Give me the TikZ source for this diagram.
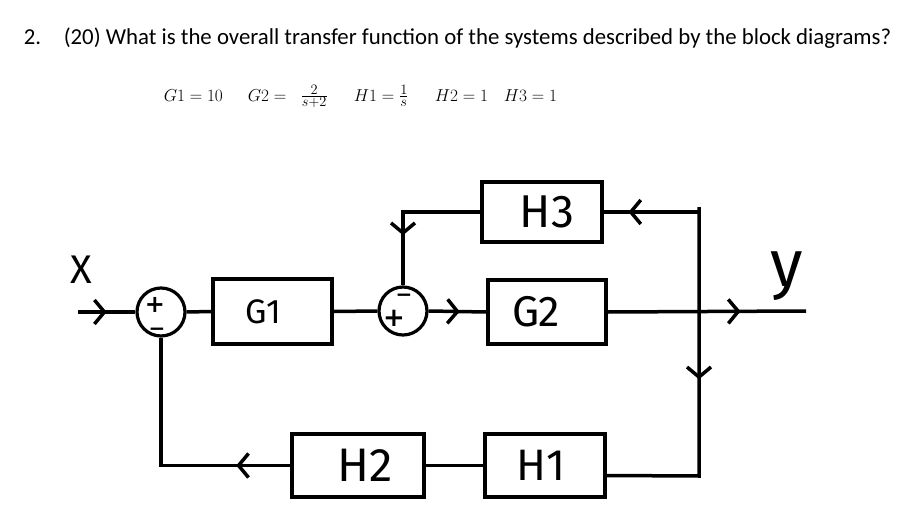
\documentclass[tikz,border=0pt]{standalone}
\usepackage{fontspec}
\setmainfont{Carlito}
\newfontfamily\hand{Fira Sans}
\newfontfamily\symf{DejaVu Sans}
\usetikzlibrary{arrows.meta,decorations.markings}
\begin{document}
\begin{tikzpicture}[x=1pt,y=-1pt,
  line width=3.5pt,
  blk/.style={draw,line width=3.5pt,inner sep=0pt},
  lbl/.style={font=\hand\fontsize{#1}{#1}\selectfont},
  sumj/.style={draw,circle,line width=3.2pt,minimum size=48pt,inner sep=0pt},
  sgn/.style={font=\symf\bfseries\fontsize{#1}{#1}\selectfont,inner sep=0pt},
  eq/.style={anchor=base west,inner sep=0pt,font=\fontsize{19}{21}\selectfont},
  ttl/.style={anchor=base west,inner sep=0pt,font=\fontsize{22.8}{26}\selectfont},
  arrat/.style={postaction={decorate},decoration={markings,
      mark=at position #1 with {\arrow{Straight Barb[length=10pt,width=24pt]}}}},
]
\useasboundingbox (0,0) rectangle (911,522);
\fill[white] (0,0) rectangle (911,522);

% title
\node[ttl] (num) at (22,45) {2.};
\node[ttl] (title) at (62,45) {(20) What is the overall transfer function of the systems described by the block diagrams?};

% given values
\node[eq] (f1) at (162,101) {$G1 = 10$};
\node[eq] (f2) at (246,101) {$G2 =\;\; \frac{2}{s+2}$};
\node[eq] (f3) at (352,101) {$H1 = \frac{1}{s}$};
\node[eq] (f4) at (433,101) {$H2 = 1$};
\node[eq] (f5) at (502,101) {$H3 = 1$};

% blocks
\node[sumj] (sA) at (161,312) {};
\node[blk,lbl=34,minimum width=119pt,minimum height=65pt] (G1) at (272.5,311.5) {G1\hspace*{18pt}};
\node[sumj] (sB) at (403,311) {};
\node[blk,lbl=43,minimum width=118pt,minimum height=64pt] (G2) at (547,312) {G2\hspace*{22pt}};
\node[blk,lbl=46,minimum width=120pt,minimum height=60pt] (H3) at (542,212) {\hspace*{10pt}H3};
\node[blk,lbl=47,minimum width=132pt,minimum height=63pt] (H2) at (358,465.5) {\hspace*{14pt}H2};
\node[blk,lbl=44,minimum width=120pt,minimum height=63pt] (H1) at (545,465.5) {H1\hspace*{8pt}};

% signs
\node[sgn=24] (pA) at (155,305) {+};
\node[sgn=20] (mA) at (157,332) {−};
\node[sgn=26] (pB) at (394,318) {+};
\node[sgn=20] (mB) at (404,298) {−};

% signal labels
\node[lbl=40,inner sep=0pt] (xl) at (81,270) {X};
\node[lbl=66,inner sep=0pt] (yl) at (787,276) {y};

% helper points
\coordinate (xin) at (78,312);
\coordinate (yout) at (806,311);
\coordinate (vt) at (699,207);
\coordinate (vb) at (699,476);

% connectors
\draw[arrat=0.5] (xin) -- (sA.west);
\draw (sA.east) -- (G1.west);
\draw (G1.east) -- (sB.west);
\draw[arrat=0.54] (sB.east) -- (G2.west);
\draw[arrat=0.67] (G2.east) -- (yout);
\draw[arrat=0.74] (H3.east -| vt) -- (H3.east);
\draw[arrat=0.667] (H3.west) -| (sB.north);
\draw[arrat=0.477] (vt) -- (vb) -- ([yshift=-10pt]H1.east);
\draw (H1.west) -- (H2.east);
\draw[arrat=0.21] (H2.west) -| (sA.south);
\end{tikzpicture}
\end{document}
